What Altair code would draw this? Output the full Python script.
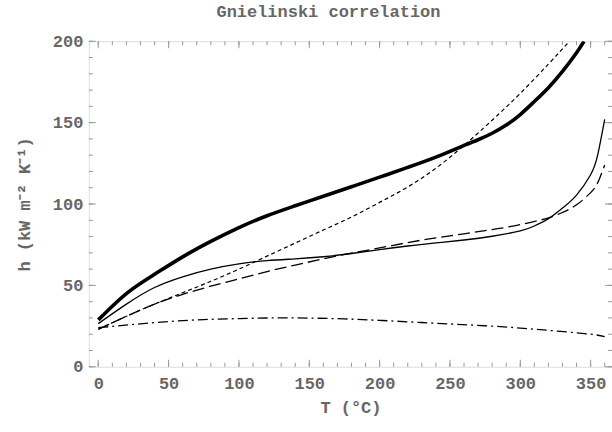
import altair as alt
import pandas as pd

# ---- data ----
T_thick = [0, 20, 40, 60, 80, 100, 120, 140, 160, 180, 200, 220, 240, 260, 270, 280, 290, 300, 310, 320, 330, 340, 345.3]
h_thick = [28.8, 45, 56.8, 67.5, 77, 85.5, 92.8, 98.9, 104.8, 110.6, 116.5, 122.5, 128.8, 136, 139.5, 143.5, 148.5, 155, 163, 171.5, 181.5, 193, 200]

T_thin = [0, 20, 40, 60, 80, 100, 120, 140, 160, 180, 200, 220, 240, 260, 280, 300, 310, 320, 330, 340, 350, 355, 360]
h_thin = [26.5, 38.5, 48.7, 55.3, 60, 63.2, 65.2, 66.3, 67.6, 69.6, 72, 74.2, 76.1, 77.9, 80.2, 83.5, 86.5, 91, 97.5, 105.5, 118, 130, 152]

T_dot = [0, 20, 40, 60, 80, 100, 120, 140, 160, 180, 200, 220, 240, 260, 280, 300, 320, 335]
h_dot = [23, 31, 38.5, 45.5, 52.5, 60, 68, 76, 84, 92, 101, 110.5, 122, 136, 151.5, 168, 186, 200]

T_dash = [0, 20, 40, 60, 80, 100, 120, 140, 160, 180, 200, 220, 240, 260, 280, 300, 320, 330, 340, 350, 355, 360]
h_dash = [23, 31, 38.5, 44.5, 49.5, 54, 58.5, 62.5, 66.3, 69.8, 73, 76.3, 79.2, 81.7, 84.3, 87.3, 91.5, 94.8, 99.5, 107, 113, 124]

T_dd = [0, 25, 50, 75, 100, 125, 150, 175, 200, 225, 250, 275, 300, 325, 350, 360]
h_dd = [24, 26, 27.8, 29, 29.6, 30, 29.9, 29.4, 28.5, 27.4, 26.3, 25.2, 23.8, 22, 20, 18.5]

x_labels = [0, 50, 100, 150, 200, 250, 300, 350]
y_labels = [0, 50, 100, 150, 200]
x_minor = list(range(0, 361, 10))
y_minor = list(range(0, 201, 10))

W, H = 524, 326
XDOM = [-6.7, 365.2]
YDOM = [0, 200]
FONT = "Liberation Mono"
GRAY = "#666666"
FRAME = "#999999"

xs = alt.Scale(domain=XDOM, nice=False, zero=False)
ys = alt.Scale(domain=YDOM, nice=False, zero=False)

XAX = alt.Axis(
    values=x_labels, title="T (°C)", tickSize=0, domain=False, grid=False,
    labelFont=FONT, labelFontSize=17, labelFontWeight="bold", labelColor=GRAY,
    labelPadding=9, titleFont=FONT, titleFontSize=17, titleFontWeight="bold",
    titleColor=GRAY, titlePadding=8)
YAX = alt.Axis(
    values=y_labels, title="h (kW m⁻² K⁻¹)", tickSize=0, domain=False, grid=False,
    labelFont=FONT, labelFontSize=17, labelFontWeight="bold", labelColor=GRAY,
    labelPadding=6, titleFont=FONT, titleFontSize=17, titleFontWeight="bold",
    titleColor=GRAY, titlePadding=19)

def X():
    return alt.X("T:Q", scale=xs, axis=XAX)

def Y():
    return alt.Y("h:Q", scale=ys, axis=YAX)

def curve(T, h, width, dash=None):
    df = pd.DataFrame({"T": T, "h": h})
    kw = dict(color="black", strokeWidth=width, clip=True, interpolate="natural")
    if dash:
        kw["strokeDash"] = dash
    return alt.Chart(df).mark_line(**kw).encode(x=X(), y=Y(), order="T:Q")

# inward ticks on the frame
xt = pd.DataFrame({"T": x_minor})
xt_major = pd.DataFrame({"T": [v for v in x_minor if v % 50 == 0]})
yt = pd.DataFrame({"h": y_minor})
yt_major = pd.DataFrame({"h": [v for v in y_minor if v % 50 == 0]})

def xticks(df, y0, y1):
    return alt.Chart(df).mark_rule(color=FRAME, strokeWidth=1).encode(
        x=X(), y=alt.value(y0), y2=alt.value(y1))

def yticks(df, x0, x1):
    return alt.Chart(df).mark_rule(color=FRAME, strokeWidth=1).encode(
        y=Y(), x=alt.value(x0), x2=alt.value(x1))

ticks = [
    xticks(xt, H, H - 4), xticks(xt_major, H, H - 7),
    xticks(xt, 0, 4), xticks(xt_major, 0, 7),
    yticks(yt, 0, 4), yticks(yt_major, 0, 7),
    yticks(yt, W, W - 4), yticks(yt_major, W, W - 7),
]

lines = [
    curve(T_dd, h_dd, 1.3, [10, 4, 2, 4]),
    curve(T_dash, h_dash, 1.3, [12, 5]),
    curve(T_dot, h_dot, 1.2, [4, 3]),
    curve(T_thin, h_thin, 1.3),
    curve(T_thick, h_thick, 3.6),
]

chart = alt.layer(*ticks, *lines).properties(
    width=W, height=H,
    title=alt.TitleParams("Gnielinski correlation", font=FONT, fontSize=17,
                          fontWeight="bold", color=GRAY, anchor="middle",
                          dx=-22, offset=11),
    autosize=alt.AutoSizeParams(type="none"),
    padding={"left": 89, "top": 41, "right": 0, "bottom": 65},
).configure_view(stroke=FRAME, strokeWidth=1).configure(background="white")

chart.save("out.html", embed_options={"renderer": "svg", "actions": False})
